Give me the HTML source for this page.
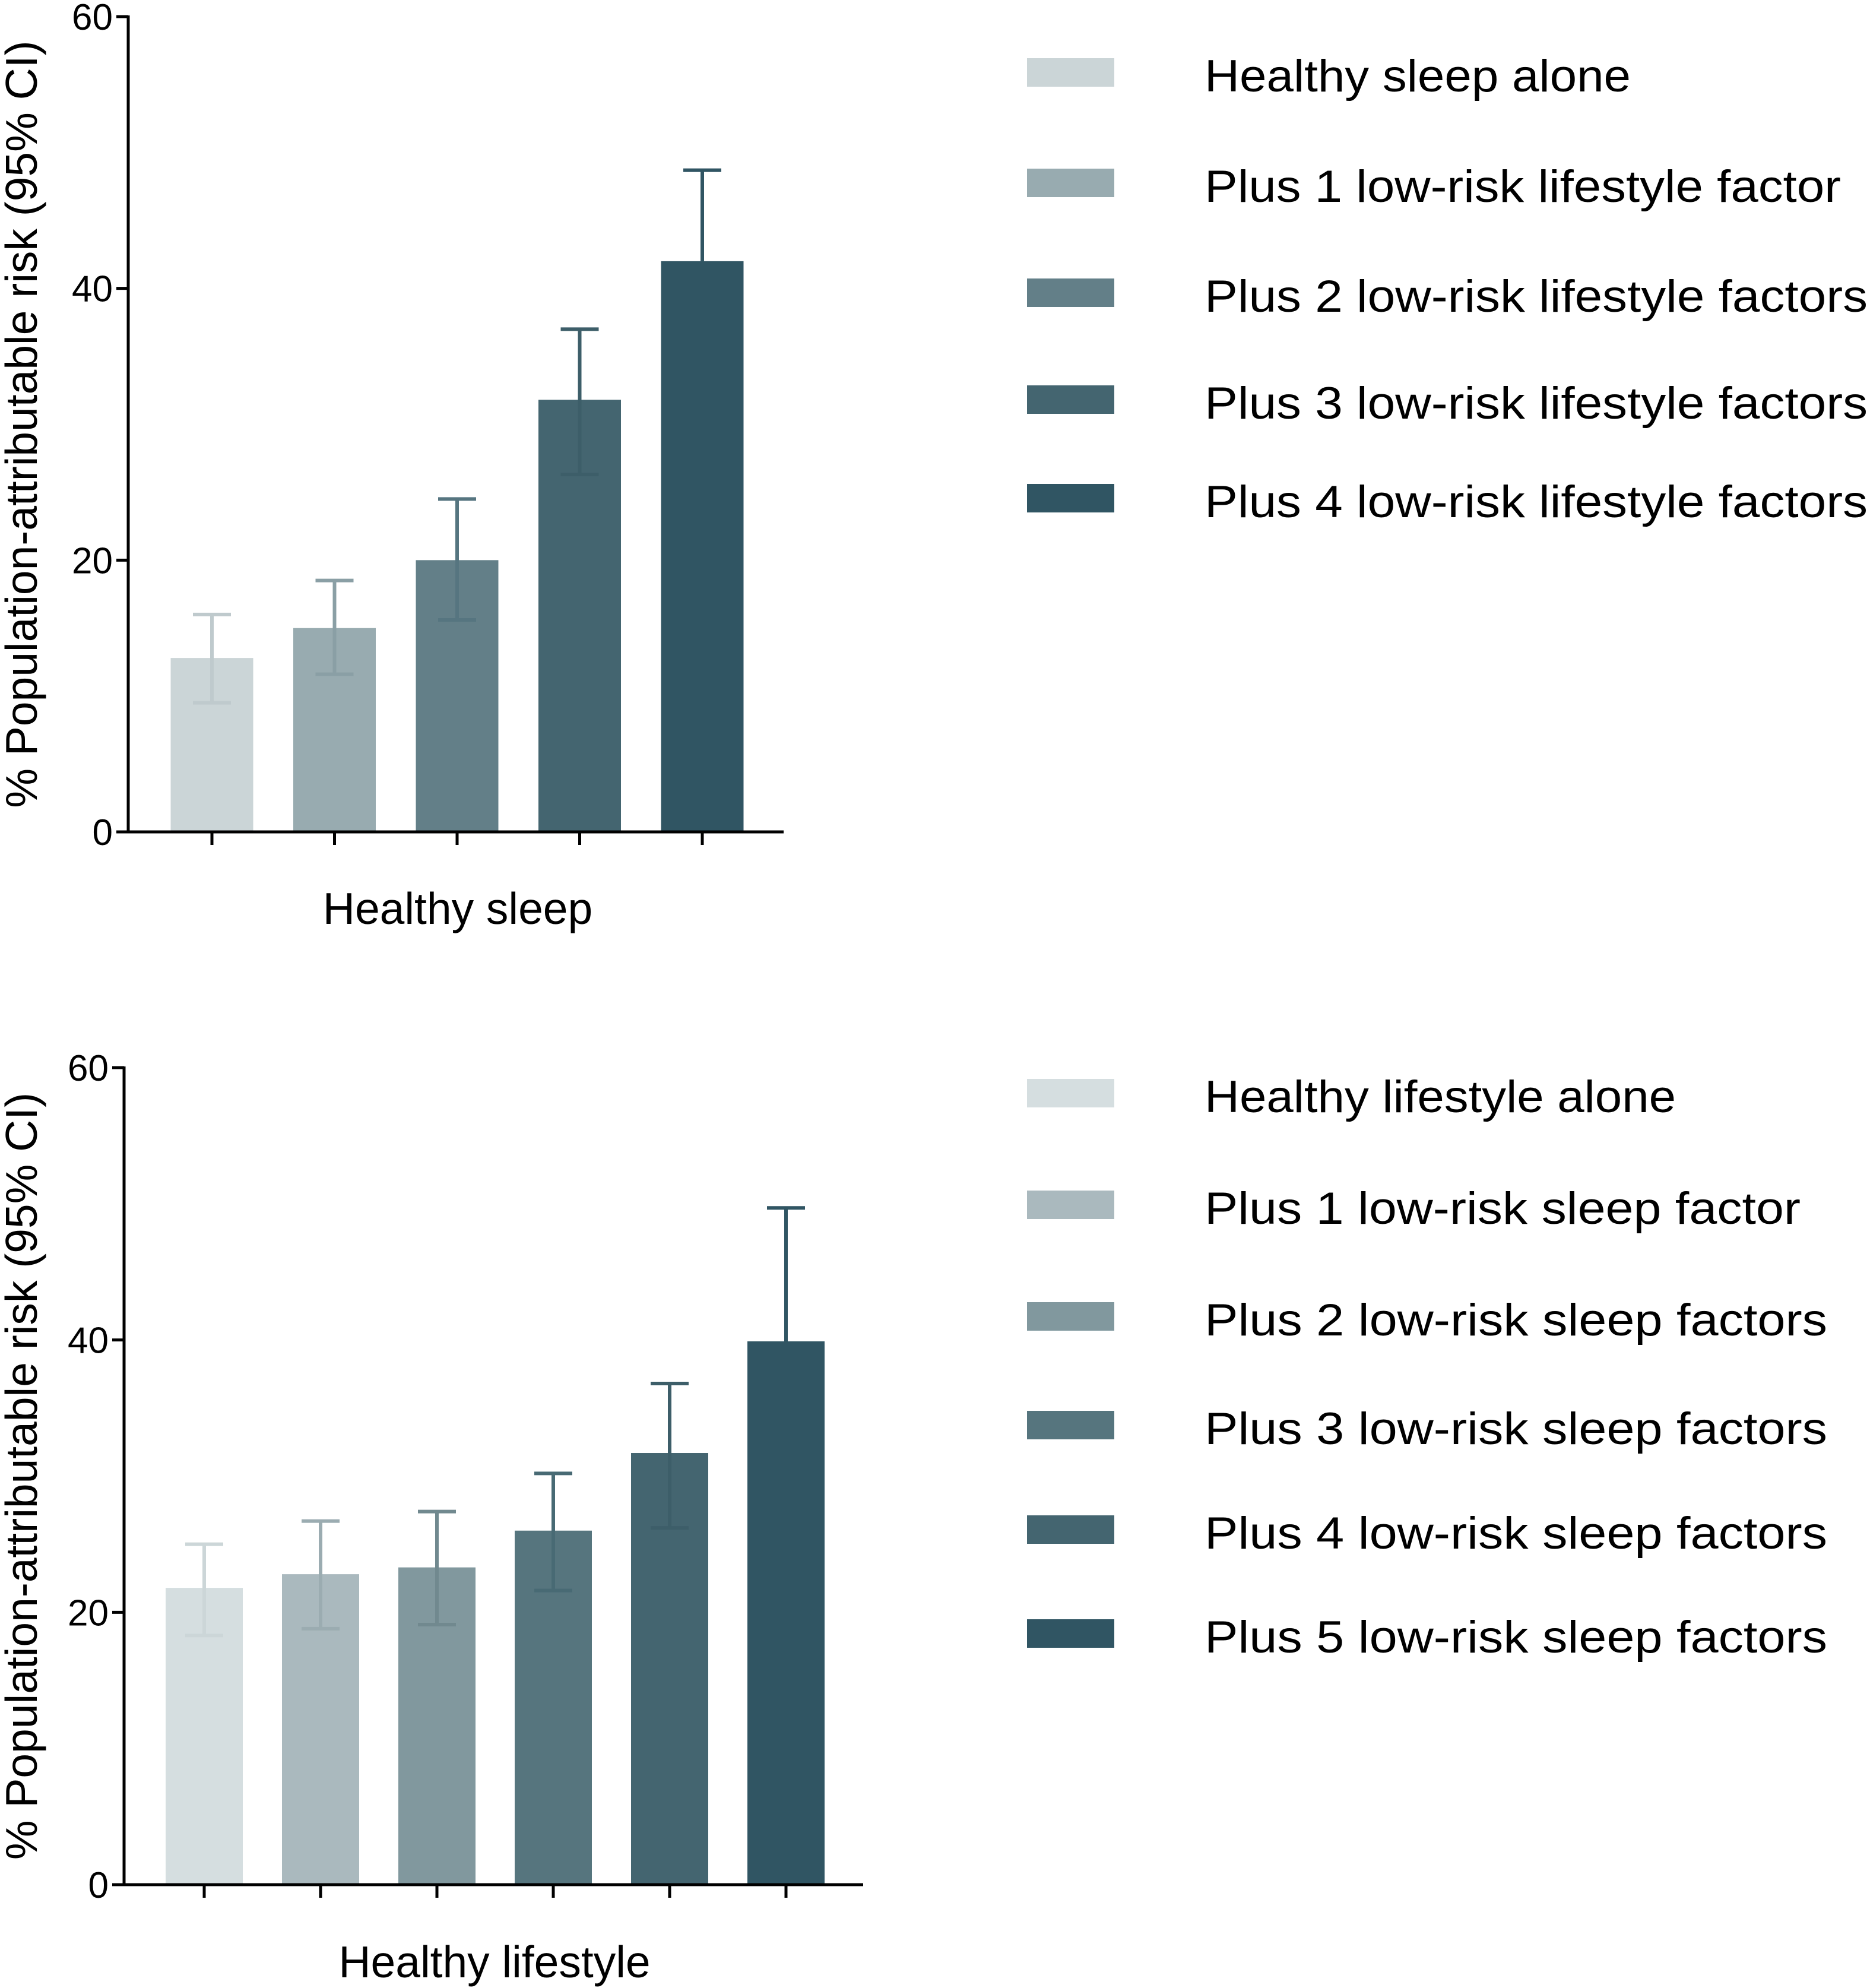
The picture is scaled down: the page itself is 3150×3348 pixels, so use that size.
<!DOCTYPE html>
<html><head><meta charset="utf-8"><style>
html,body{margin:0;padding:0;background:#fff;}
svg{display:block;font-family:"Liberation Sans",Arial,sans-serif;}
</style></head><body>
<svg id="chart" width="3150" height="3348" viewBox="0 0 3150 3348" xmlns="http://www.w3.org/2000/svg"></svg>
<script>
// Panel A data
const catsA = ["Healthy sleep alone","Plus 1 low-risk lifestyle factor","Plus 2 low-risk lifestyle factors","Plus 3 low-risk lifestyle factors","Plus 4 low-risk lifestyle factors"];
const valsA = [12.8, 15.0, 20.0, 31.8, 42.0];
const loA = [9.5, 11.6, 15.6, 26.3, 42.0];
const hiA = [16.0, 18.5, 24.5, 37.0, 48.7];
const colorsA = ["#cbd5d7","#98abb0","#637f88","#446570","#305563"];
const errColorsA = ["#bfcacd","#8a9fa5","#567580","#3d5e69","#305563"];
// Panel B data
const catsB = ["Healthy lifestyle alone","Plus 1 low-risk sleep factor","Plus 2 low-risk sleep factors","Plus 3 low-risk sleep factors","Plus 4 low-risk sleep factors","Plus 5 low-risk sleep factors"];
const valsB = [21.8, 22.8, 23.3, 26.0, 31.7, 39.9];
const loB = [18.3, 18.8, 19.1, 21.6, 26.2, 39.9];
const hiB = [25.0, 26.7, 27.4, 30.2, 36.8, 49.7];
const colorsB = ["#d5dee0","#aab9be","#81989e","#56757e","#446570","#305563"];
const errColorsB = ["#ccd6d8","#9bacb1","#71898f","#486a74","#3d5e69","#305563"];
const ticks = [0, 20, 40, 60];

const NS = "http://www.w3.org/2000/svg";
const svg = document.getElementById('chart');
function mk(tag, attrs, parent){
  const e = document.createElementNS(NS, tag);
  for (const k in attrs) e.setAttribute(k, attrs[k]);
  (parent||svg).appendChild(e);
  return e;
}

function panel(o){
  const g = mk('g', {});
  
  
  const y = v => o.y0 + (o.y60 - o.y0) * v / 60;
  const x = i => o.c0 + i * o.step;
  o.vals.forEach((v, i) => {
    const r = mk('rect', {x: x(i) - o.bw/2, y: y(v), width: o.bw, height: o.y0 - y(v), fill: o.colors[i]}, g);
    
    
  });
  o.vals.forEach((v, i) => {
    const eg = mk('g', {stroke: o.errColors[i], 'stroke-width': 6, fill: 'none'}, g);
    
    
    mk('line', {x1: x(i), x2: x(i), y1: y(o.lo[i]), y2: y(o.hi[i])}, eg);
    mk('line', {x1: x(i)-32, x2: x(i)+32, y1: y(o.hi[i]), y2: y(o.hi[i])}, eg);
    if (o.lo[i] < v) mk('line', {x1: x(i)-32, x2: x(i)+32, y1: y(o.lo[i]), y2: y(o.lo[i])}, eg);
  });
  const ax = mk('g', {stroke: '#000', 'stroke-width': 5}, g);
  
  
  mk('line', {x1: o.ax, x2: o.ax, y1: y(60)-2, y2: o.y0+2}, ax);
  mk('line', {x1: o.ax-2, x2: o.xend, y1: o.y0, y2: o.y0}, ax);
  ticks.forEach(t => {
    mk('line', {x1: o.ax-20, x2: o.ax, y1: y(t), y2: y(t)}, ax);
    const tl = mk('text', {x: o.ax-26, y: y(t)+22, 'text-anchor': 'end', 'font-size': 62, fill: '#000'}, g);
    tl.textContent = t;
    
    
  });
  o.vals.forEach((v, i) => {
    mk('line', {x1: x(i), x2: x(i), y1: o.y0, y2: o.y0+22}, ax);
  });
  const xl = mk('text', {x: o.xlx, y: o.xly, 'text-anchor': 'middle', 'font-size': 75, fill: '#000'}, g);
  xl.textContent = o.xlabel;
  
  
  const yl = mk('text', {x: 0, y: 0, 'text-anchor': 'middle', 'font-size': 75, fill: '#000', transform: 'translate(' + o.ytx + ',' + ((y(60)+o.y0)/2) + ') rotate(-90)'}, g);
  yl.textContent = '% Population-attributable risk (95% CI)';
  
  
  o.cats.forEach((c, i) => {
    const lg = mk('g', {}, g);
    
    
    mk('rect', {x: 1730, y: o.legY[i]-24, width: 147, height: 48, fill: o.colors[i]}, lg);
    const t = mk('text', {x: 2029, y: o.legY[i]+32, 'font-size': 76, fill: '#000', textLength: o.legW[i], lengthAdjust: 'spacingAndGlyphs'}, lg);
    t.textContent = c;
  });
}

panel({name: 'panel-healthy-sleep', cats: catsA, vals: valsA, lo: loA, hi: hiA, colors: colorsA, errColors: errColorsA,
  ax: 216, y0: 1401, y60: 28, c0: 357, step: 206.5, bw: 139, xend: 1320,
  xlabel: 'Healthy sleep', xlx: 771, xly: 1556, ytx: 62,
  legY: [122, 308, 493, 673, 839], legW: [718, 1072, 1117, 1117, 1117]});
panel({name: 'panel-healthy-lifestyle', cats: catsB, vals: valsB, lo: loB, hi: hiB, colors: colorsB, errColors: errColorsB,
  ax: 209, y0: 3174, y60: 1798, c0: 344, step: 196, bw: 130, xend: 1454,
  xlabel: 'Healthy lifestyle', xlx: 833, xly: 3330, ytx: 62,
  legY: [1841, 2029, 2217, 2400, 2576, 2751], legW: [794, 1004, 1049, 1049, 1049, 1049]});
</script>
</body></html>
